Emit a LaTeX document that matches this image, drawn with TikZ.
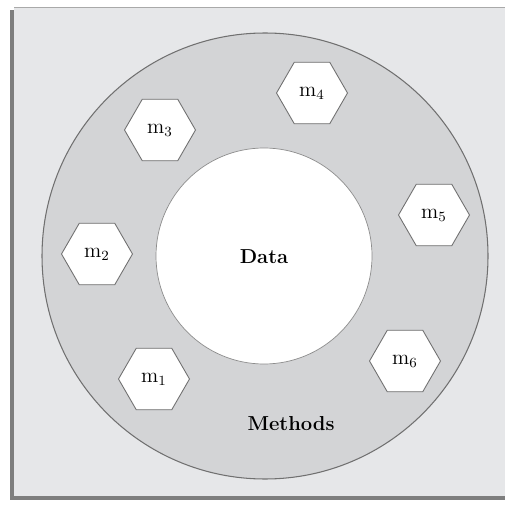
\documentclass[tikz,border=0pt]{standalone}
\usepackage{xcolor}
\usepackage{tikz}
\usetikzlibrary{shapes, shapes.geometric, calc}
\definecolor{panelgray}{HTML}{E6E7E9}
\definecolor{ringgray}{HTML}{D3D4D6}
\definecolor{edgegray}{HTML}{707070}
\tikzset{hexbox/.style={regular polygon, regular polygon sides=6, draw=edgegray, line width=0.5pt, fill=white, minimum size=1.42cm, inner sep=0pt, font=\fontsize{12}{14}\selectfont}}
\newcommand{\Panel}[2]{\fill[panelgray] (14,7) rectangle (#1,#2);\draw[edgegray!60] (14,7)--(#1,7);\fill[edgegray!90] (10,10) rectangle (14,500);\fill[edgegray!90] (10,496) rectangle (#1,500);}

\begin{document}
\begin{tikzpicture}[x=0.02cm, y=-0.02cm]
\useasboundingbox (0,0) rectangle (505,506);
\Panel{505}{497}
\draw[edgegray, line width=0.6pt, fill=ringgray] (265,256) circle[radius=223];
\draw[edgegray!80, fill=white] (264,256) circle[radius=108];
\node[font=\fontsize{11.5}{14}\selectfont\bfseries] (data) at (264,257) {Data};
\node[font=\fontsize{11.5}{14}\selectfont\bfseries] (methods) at (291,424) {Methods};
\foreach \i/\x/\y in {1/154/379, 2/97/254, 3/160/130, 4/312/93, 5/434/215, 6/405/361}
  \node[hexbox] (m\i) at (\x,\y) {m$_{\i}$};
\end{tikzpicture}
\end{document}
